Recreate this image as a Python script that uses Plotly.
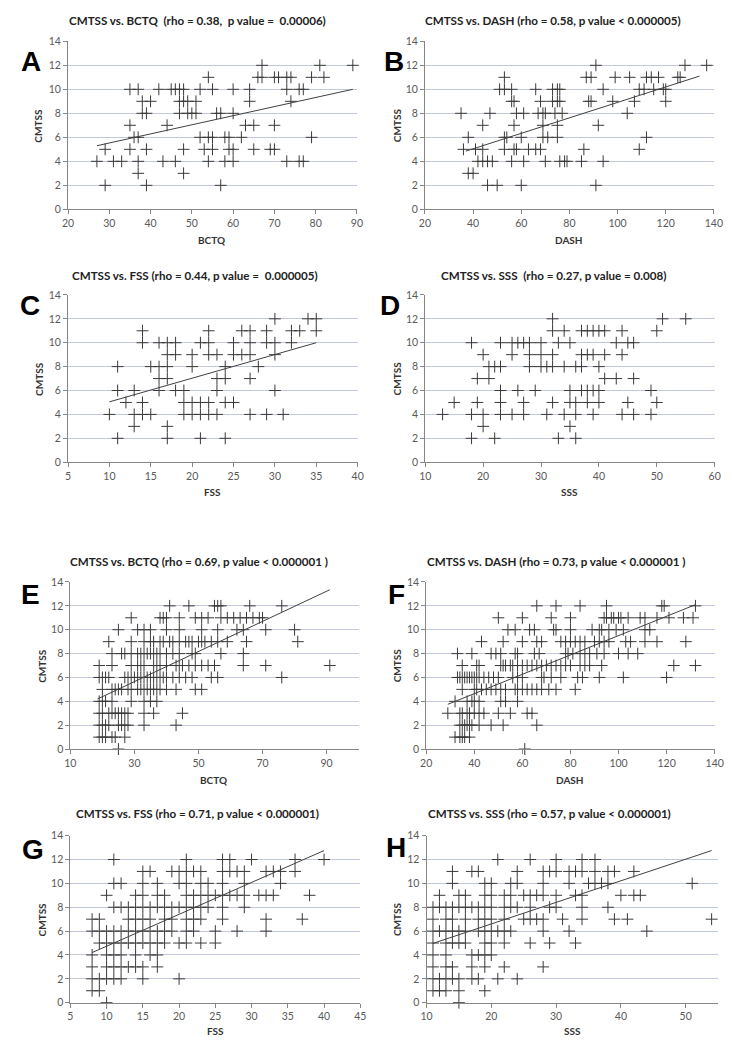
import plotly.graph_objects as go

# ---------------- DATA (CMTSS value -> list of x values) ----------------
a_points = {
    12: [67, 81, 89],
    11: [54, 66, 67, 70, 71, 73, 74, 79, 82],
    10: [35, 37, 42, 45, 46, 47, 48, 52, 55, 60, 64, 73, 76, 77],
    9: [38, 40, 47, 48, 49, 51, 64, 74],
    8: [38, 39, 47, 49, 50, 51, 56, 57, 60],
    7: [35, 44, 63, 65, 70],
    6: [36, 37, 52, 54, 55, 58, 59, 62, 79],
    5: [29, 35, 39, 48, 53, 55, 59, 60, 65, 69, 70],
    4: [27, 31, 33, 37, 43, 46, 54, 58, 60, 73, 76, 77],
    3: [37, 48],
    2: [29, 39, 57],
}
b_points = {
    12: [91, 128, 137],
    11: [53, 87, 89, 99, 105, 112, 114, 117, 125, 126],
    10: [51, 53, 56, 66, 73, 75, 76, 94, 109, 111, 115, 119, 120],
    9: [56, 57, 68, 73, 75, 76, 88, 89, 98, 107, 120],
    8: [35, 47, 58, 61, 67, 69, 70, 74, 77, 104],
    7: [44, 57, 69, 75, 92],
    6: [38, 53, 54, 60, 69, 71, 75, 112],
    5: [36, 41, 44, 53, 57, 58, 63, 66, 68, 86, 109],
    4: [42, 44, 46, 48, 56, 61, 70, 76, 78, 79, 85, 94],
    3: [38, 40],
    2: [46, 50, 60, 91],
}
c_points = {
    12: [30, 34, 35],
    11: [14, 22, 26, 27, 29, 32, 33, 35],
    10: [14, 16, 17, 18, 21, 22, 25, 27, 29, 30, 32],
    9: [17, 18, 20, 22, 23, 25, 26, 27, 30],
    8: [11, 15, 16, 17, 20, 24, 28],
    7: [16, 17, 23, 24, 27],
    6: [11, 13, 16, 18, 19, 23, 30],
    5: [12, 14, 19, 20, 21, 22, 24, 25],
    4: [10, 13, 14, 15, 19, 20, 21, 22, 23, 27, 29, 31],
    3: [13, 17],
    2: [11, 17, 21, 24],
}
d_points = {
    12: [32, 51, 55],
    11: [32, 34, 37, 38, 39, 40, 41, 44, 50],
    10: [18, 23, 25, 26, 27, 28, 30, 33, 35, 43, 45, 46],
    9: [20, 25, 28, 30, 32, 37, 38, 39, 41, 44],
    8: [21, 22, 23, 28, 30, 31, 32, 34, 36, 37, 40],
    7: [19, 21, 41, 43, 46],
    6: [23, 26, 29, 35, 37, 38, 39, 40, 49],
    5: [15, 19, 23, 27, 32, 35, 36, 38, 40, 45, 50],
    4: [13, 18, 20, 23, 25, 27, 31, 34, 36, 39, 44, 46, 49],
    3: [20, 35],
    2: [18, 22, 33, 36],
}
e_points = {
    12: [41, 47, 55, 56, 57, 66, 76],
    11: [29, 38, 39, 40, 44, 49, 51, 53, 57, 59, 61, 63, 65, 67, 69, 70],
    10: [25, 31, 33, 35, 40, 44, 51, 56, 62, 64, 71, 80],
    9: [22, 29, 33, 35, 36, 38, 39, 41, 42, 44, 46, 47, 48, 50, 51, 52, 54, 56, 59, 65, 81],
    8: [23, 26, 27, 29, 31, 32, 33, 34, 35, 36, 37, 38, 40, 42, 44, 48, 49, 57, 64],
    7: [19, 23, 29, 31, 32, 33, 36, 37, 38, 40, 43, 44, 45, 47, 49, 51, 53, 55, 64, 71, 91],
    6: [19, 20, 21, 22, 27, 28, 29, 30, 31, 32, 33, 34, 35, 36, 37, 38, 39, 40, 42, 44, 46, 48, 54, 56, 76],
    5: [20, 23, 24, 25, 26, 28, 29, 31, 32, 33, 34, 35, 36, 37, 38, 40, 43, 49, 51],
    4: [19, 20, 21, 23, 29, 33, 35, 37],
    3: [19, 20, 22, 23, 24, 25, 26, 27, 28, 33, 36, 45],
    2: [19, 20, 21, 22, 25, 26, 27, 28, 33, 43],
    1: [19, 20, 21, 23, 24, 27],
    0: [25],
}
f_points = {
    12: [66, 74, 84, 95, 118, 119, 132],
    11: [50, 60, 72, 80, 94, 95, 97, 98, 100, 101, 104, 109, 111, 116, 121, 127, 131],
    10: [54, 57, 63, 65, 73, 74, 80, 89, 92, 93, 96, 99, 102, 111, 113],
    9: [43, 52, 60, 66, 68, 76, 78, 80, 82, 84, 86, 90, 92, 94, 96, 103, 105, 111, 116, 128],
    8: [33, 39, 47, 49, 51, 57, 58, 65, 67, 78, 79, 81, 84, 86, 88, 91, 94, 100, 104, 108],
    7: [35, 41, 42, 51, 52, 53, 55, 56, 58, 60, 62, 64, 66, 68, 70, 72, 74, 76, 78, 80, 84, 86, 88, 93, 123, 132],
    6: [33, 34, 35, 36, 37, 38, 39, 40, 41, 42, 44, 46, 48, 50, 56, 58, 60, 68, 69, 72, 76, 83, 85, 92, 102, 120],
    5: [35, 40, 41, 43, 45, 47, 49, 51, 53, 57, 58, 60, 62, 64, 66, 68, 71, 74, 82],
    4: [32, 37, 39, 40, 42, 51, 53, 58],
    3: [29, 34, 35, 37, 38, 40, 42, 44, 50, 55, 62, 64],
    2: [34, 35, 36, 37, 38, 39, 42, 47, 52, 66],
    1: [32, 34, 35, 36, 38],
    0: [61],
}
g_points = {
    12: [11, 21, 26, 27, 30, 36, 40],
    11: [15, 16, 19, 20, 21, 22, 23, 26, 27, 28, 29, 32, 33, 34, 36],
    10: [11, 12, 15, 17, 20, 21, 23, 24, 26, 29, 34],
    9: [10, 14, 15, 17, 18, 21, 22, 23, 24, 25, 26, 27, 28, 29, 31, 32, 33, 38],
    8: [11, 12, 13, 14, 15, 16, 17, 18, 19, 20, 21, 22, 23, 24, 26, 29],
    7: [8, 9, 13, 14, 15, 16, 18, 19, 21, 22, 23, 26, 32, 37],
    6: [8, 9, 10, 11, 12, 13, 14, 15, 16, 17, 18, 19, 21, 22, 25, 28, 32],
    5: [9, 10, 11, 12, 13, 14, 15, 16, 17, 18, 20, 21, 23, 25],
    4: [8, 10, 11, 12, 14, 16, 17],
    3: [8, 10, 11, 12, 13, 14, 15, 17],
    2: [8, 9, 10, 11, 12, 15, 20],
    1: [8, 9],
    0: [10],
}
h_points = {
    12: [21, 26, 30, 34, 36],
    11: [14, 17, 18, 24, 28, 29, 30, 32, 33, 34, 36, 38, 39, 42],
    10: [14, 19, 20, 23, 24, 28, 32, 35, 36, 37, 38, 51],
    9: [12, 15, 16, 19, 20, 22, 23, 25, 26, 27, 28, 30, 33, 34, 40, 42, 43],
    8: [11, 12, 13, 14, 15, 16, 17, 18, 19, 20, 22, 23, 24, 26, 29, 30, 34, 38],
    7: [11, 13, 14, 16, 18, 19, 20, 22, 25, 26, 27, 28, 31, 34, 39, 41, 54],
    6: [11, 12, 13, 14, 15, 16, 18, 19, 20, 21, 22, 23, 28, 32, 44],
    5: [11, 13, 14, 15, 16, 19, 20, 22, 26, 29, 33],
    4: [11, 13, 17, 18, 19, 20],
    3: [11, 13, 14, 17, 19, 22, 28],
    2: [11, 12, 13, 14, 15, 17, 18, 21, 24],
    1: [11, 12, 13, 15, 19],
    0: [15],
}

# trend line end points (x, y)
a_trend_x, a_trend_y = [27, 89], [5.3, 10.0]
b_trend_x, b_trend_y = [37, 134], [4.85, 11.1]
c_trend_x, c_trend_y = [10, 35], [5.05, 10.0]
d_trend_x, d_trend_y = [], []
e_trend_x, e_trend_y = [18.5, 91], [4.2, 13.35]
f_trend_x, f_trend_y = [29, 132], [3.75, 12.1]
g_trend_x, g_trend_y = [8, 40], [4.2, 12.75]
h_trend_x, h_trend_y = [11, 54], [4.97, 12.75]

titles = [
    "CMTSS vs. BCTQ  (rho = 0.38,  p value =  0.00006)",
    "CMTSS vs. DASH (rho = 0.58, p value < 0.000005)",
    "CMTSS vs. FSS (rho = 0.44, p value =  0.000005)",
    "CMTSS vs. SSS  (rho = 0.27, p value = 0.008)",
    "CMTSS vs. BCTQ (rho = 0.69, p value < 0.000001 )",
    "CMTSS vs. DASH (rho = 0.73, p value < 0.000001 )",
    "CMTSS vs. FSS (rho = 0.71, p value < 0.000001)",
    "CMTSS vs. SSS (rho = 0.57, p value < 0.000001)",
]
x_titles = ["BCTQ", "DASH", "FSS", "SSS", "BCTQ", "DASH", "FSS", "SSS"]
letters = ["A", "B", "C", "D", "E", "F", "G", "H"]
x_ranges = [[20, 90], [20, 140], [5, 40], [10, 60], [10, 100], [20, 140], [5, 45], [10, 55]]
x_tick0 = [20, 20, 5, 10, 10, 20, 5, 10]
x_dtick = [10, 20, 5, 10, 20, 20, 5, 10]

points = [a_points, b_points, c_points, d_points, e_points, f_points, g_points, h_points]
trends = [(a_trend_x, a_trend_y), (b_trend_x, b_trend_y), (c_trend_x, c_trend_y),
          (d_trend_x, d_trend_y), (e_trend_x, e_trend_y), (f_trend_x, f_trend_y),
          (g_trend_x, g_trend_y), (h_trend_x, h_trend_y)]

# ---------------- LAYOUT (pixels) ----------------
W, H = 732, 1043
# plot boxes: left, right, top, bottom
boxes = [
    (63.3, 358.3, 35.7, 205.7),
    (427.7, 722.7, 35.7, 205.7),
    (63.3, 359.0, 292.3, 461.5),
    (428.0, 723.5, 292.3, 461.5),
    (65.7, 360.0, 582.7, 751.7),
    (429.0, 723.5, 582.7, 751.7),
    (65.7, 361.7, 839.3, 1008.3),
    (429.3, 727.0, 839.3, 1008.3),
]
title_pos = [(195, 15), (558, 15), (193, 273), (559, 273),
             (197, 562), (562, 562), (196, 817), (555, 817)]
xtitle_y = [237, 237, 492, 492, 783, 783, 1037, 1037]
ytitle_x = [33, 399, 33, 399, 36, 399, 37, 399]
letter_pos = [(26, 56), (396, 56), (24, 303), (392, 303),
              (25, 595), (399, 595), (28, 853), (398, 851)]


def px(xp):
    return xp / W


def py(yp):
    return 1 - yp / H


FONT = "Lato"
GRID = "#c3c9dc"
AXIS = "#868686"
TICK_FONT = dict(family=FONT, size=10.5, color="#595959")
MARK = "#3a3a3a"

fig = go.Figure()
layout = dict(
    width=W, height=H, margin=dict(l=0, r=0, t=0, b=0),
    paper_bgcolor="white", plot_bgcolor="white", showlegend=False,
)
annotations = []

for i in range(8):
    n = i + 1
    sfx = "" if n == 1 else str(n)
    l, r, t, b = boxes[i]
    xs, ys = [], []
    for yv, xlist in points[i].items():
        for xv in xlist:
            xs.append(xv)
            ys.append(yv)
    fig.add_trace(go.Scatter(
        x=xs, y=ys, mode="markers", xaxis="x" + sfx, yaxis="y" + sfx,
        cliponaxis=False,
        marker=dict(symbol="cross-thin", size=8.5, color=MARK,
                    line=dict(width=1, color=MARK)),
        hoverinfo="x+y",
    ))
    tx, ty = trends[i]
    if tx:
        fig.add_trace(go.Scatter(
            x=tx, y=ty, mode="lines", xaxis="x" + sfx, yaxis="y" + sfx,
            line=dict(color="#404040", width=1), hoverinfo="skip",
        ))
    layout["xaxis" + sfx] = dict(
        domain=[px(l), px(r)], anchor="y" + sfx, range=x_ranges[i],
        tick0=x_tick0[i], dtick=x_dtick[i], showgrid=False, zeroline=False,
        showline=True, linecolor=AXIS, linewidth=1, ticks="outside",
        ticklen=4, tickcolor=AXIS, tickfont=TICK_FONT,
    )
    layout["yaxis" + sfx] = dict(
        domain=[py(b), py(t)], anchor="x" + sfx, range=[0, 14], dtick=2,
        showgrid=True, gridcolor=GRID, gridwidth=1, zeroline=False,
        showline=True, linecolor=AXIS, linewidth=1, ticks="outside",
        ticklen=4, tickcolor=AXIS, tickfont=TICK_FONT,
    )
    # panel title
    annotations.append(dict(
        text="<b>" + titles[i] + "</b>", xref="paper", yref="paper",
        x=px(title_pos[i][0]), y=py(title_pos[i][1]), xanchor="center",
        yanchor="middle", showarrow=False,
        font=dict(family=FONT, size=11.6, color="#222222"),
    ))
    # x axis title
    annotations.append(dict(
        text="<b>" + x_titles[i] + "</b>", xref="paper", yref="paper",
        x=px((l + r) / 2), y=py(xtitle_y[i]), xanchor="center",
        yanchor="middle", showarrow=False,
        font=dict(family=FONT, size=10, color="#333333"),
    ))
    # y axis title
    annotations.append(dict(
        text="<b>CMTSS</b>", xref="paper", yref="paper",
        x=px(ytitle_x[i]), y=py((t + b) / 2), xanchor="center",
        yanchor="middle", showarrow=False, textangle=-90,
        font=dict(family=FONT, size=10, color="#333333"),
    ))
    # panel letter
    annotations.append(dict(
        text="<b>" + letters[i] + "</b>", xref="paper", yref="paper",
        x=px(letter_pos[i][0]), y=py(letter_pos[i][1]), xanchor="center",
        yanchor="middle", showarrow=False,
        font=dict(family="Liberation Sans", size=28, color="black"),
    ))

layout["annotations"] = annotations
fig.update_layout(**layout)
fig.write_html(
    "out.html",
    config={"displayModeBar": False},
    post_script="document.body.style.margin='0px';"
                "document.body.style.padding='0px';"
                "document.body.style.overflow='hidden';",
)
